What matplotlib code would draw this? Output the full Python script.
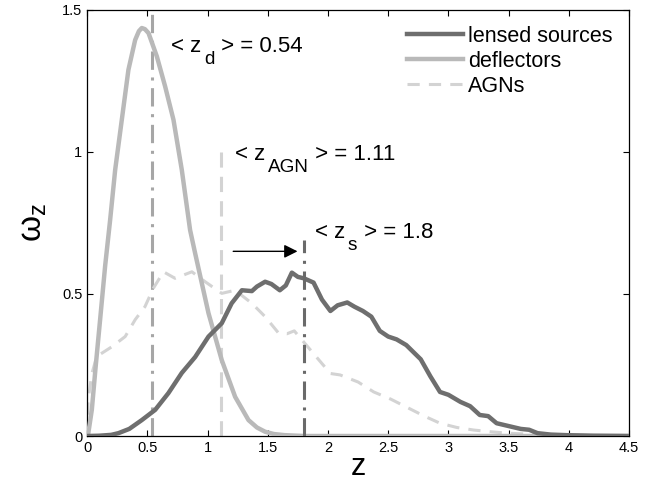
import matplotlib
matplotlib.use("Agg")
import matplotlib.pyplot as plt
import numpy as np

plt.rcParams['font.family'] = ['Liberation Sans', 'DejaVu Sans']
plt.rcParams['mathtext.fontset'] = 'custom'
plt.rcParams['mathtext.rm'] = 'Liberation Sans'
plt.rcParams['mathtext.it'] = 'Liberation Sans'

# lensed sources
z_src = [0.0, 0.1, 0.2, 0.26, 0.35, 0.454, 0.565, 0.675, 0.786, 0.897, 1.008, 1.118, 1.2, 1.285,
         1.368, 1.41, 1.478, 1.53, 1.6, 1.65, 1.70, 1.75, 1.80, 1.88, 1.95, 2.02, 2.08, 2.16, 2.22,
         2.29, 2.36, 2.43, 2.50, 2.57, 2.65, 2.77, 2.85, 2.93, 3.00, 3.10, 3.18, 3.26, 3.33, 3.40,
         3.50, 3.60, 3.67, 3.74, 3.85, 3.98, 4.2, 4.5]
w_src = [0.0, 0.001, 0.004, 0.01, 0.025, 0.056, 0.092, 0.151, 0.222, 0.278, 0.35, 0.397, 0.467, 0.513,
         0.51, 0.526, 0.543, 0.535, 0.513, 0.53, 0.575, 0.56, 0.555, 0.54, 0.48, 0.44, 0.46, 0.47, 0.455,
         0.44, 0.42, 0.37, 0.35, 0.34, 0.32, 0.27, 0.21, 0.155, 0.145, 0.12, 0.105, 0.074, 0.07, 0.045,
         0.035, 0.025, 0.022, 0.01, 0.005, 0.003, 0.001, 0.0]

# deflectors
z_def = [0.0, 0.01, 0.039, 0.07, 0.108, 0.15, 0.191, 0.233, 0.288, 0.343, 0.399, 0.43, 0.454, 0.48,
         0.51, 0.579, 0.648, 0.717, 0.786, 0.855, 0.897, 1.008, 1.118, 1.229, 1.34, 1.41, 1.478,
         1.55, 1.64, 1.8, 4.5]
w_def = [0.0, 0.01, 0.092, 0.24, 0.41, 0.6, 0.76, 0.937, 1.113, 1.289, 1.394, 1.425, 1.436, 1.432,
         1.418, 1.336, 1.23, 1.113, 0.937, 0.725, 0.643, 0.432, 0.267, 0.138, 0.056, 0.03, 0.015,
         0.007, 0.003, 0.0, 0.0]

# AGNs
z_agn = [0.0, 0.008, 0.04, 0.08, 0.205, 0.316, 0.40, 0.48, 0.55, 0.634, 0.73, 0.87, 0.98, 1.118,
         1.229, 1.368, 1.478, 1.59, 1.66, 1.72, 1.80, 1.90, 2.02, 2.10, 2.25, 2.38, 2.52, 2.66, 2.80,
         2.93, 3.07, 3.21, 3.35, 3.49, 3.75, 4.0, 4.5]
w_agn = [0.0, 0.125, 0.22, 0.28, 0.314, 0.35, 0.41, 0.455, 0.52, 0.578, 0.555, 0.578, 0.543, 0.502,
         0.513, 0.467, 0.42, 0.362, 0.36, 0.37, 0.33, 0.28, 0.22, 0.215, 0.19, 0.155, 0.13, 0.10, 0.07,
         0.045, 0.03, 0.021, 0.015, 0.01, 0.005, 0.003, 0.0]

means = [0.54, 1.11, 1.8]
mean_tops = [1.5, 1.0, 0.69]
mean_subs = ['d', 'AGN', 's']
mean_vals = ['0.54', '1.11', '1.8']

c_src = '#6e6e6e'
c_def = '#b9b9b9'
c_agn = '#d3d3d3'

fig = plt.figure(figsize=(6.65, 4.91), dpi=100)
ax = fig.add_axes([0.131, 0.112, 0.815, 0.868])

ax.plot(z_src, w_src, color=c_src, lw=3.2, label='lensed sources', zorder=4)
ax.plot(z_def, w_def, color=c_def, lw=3.2, label='deflectors', zorder=3)
ax.plot(z_agn, w_agn, color=c_agn, lw=2.2, ls=(0, (4, 3)), label='AGNs', zorder=2)

ax.plot([means[0], means[0]], [0, mean_tops[0]], color='#a6a6a6', lw=2.2, ls=(0, (6, 2.5, 1, 2.5)), zorder=1)
ax.plot([means[1], means[1]], [0, mean_tops[1]], color=c_agn, lw=2.2, ls=(0, (5, 3)), zorder=1)
ax.plot([means[2], means[2]], [0, mean_tops[2]], color='#6a6a6a', lw=2.2, ls=(0, (6, 2.5, 1, 2.5)), zorder=5)

ax.annotate('', xy=(1.77, 0.65), xytext=(1.19, 0.65),
            arrowprops=dict(arrowstyle='-|>', color='black', lw=1.0, mutation_scale=20))


def label_with_sub(x, y, sub, val, fs=16):
    t1 = ax.text(x, y, '< z', fontsize=fs, va='bottom', ha='left')
    t2 = ax.annotate(sub, xy=(1, 0), xycoords=t1, xytext=(1.5, -8), textcoords='offset points',
                     fontsize=fs * 0.85, va='bottom', ha='left')
    ax.annotate(' > = ' + val, xy=(1, 0), xycoords=(t2, t1), xytext=(0.5, 0),
                textcoords='offset points', fontsize=fs, va='bottom', ha='left')


label_with_sub(0.70, 1.335, mean_subs[0], mean_vals[0])
label_with_sub(1.23, 0.955, mean_subs[1], mean_vals[1])
label_with_sub(1.895, 0.68, mean_subs[2], mean_vals[2])

ax.set_xlim(0, 4.5)
ax.set_ylim(0, 1.5)
ax.set_xticks(np.arange(0, 4.51, 0.5))
ax.set_xticklabels(['0', '0.5', '1', '1.5', '2', '2.5', '3', '3.5', '4', '4.5'])
ax.set_yticks([0, 0.5, 1, 1.5])
ax.set_yticklabels(['0', '0.5', '1', '1.5'])
ax.tick_params(direction='in', top=True, right=True, labelsize=10.5, length=4, width=0.8)
for s in ax.spines.values():
    s.set_linewidth(0.9)

ax.set_xlabel('z', fontsize=22, labelpad=-2)
ax.set_ylabel(r'$\omega_{\rm z}$', fontsize=24, labelpad=9)

leg = ax.legend(loc='upper right', frameon=False, fontsize=15.5, handlelength=2.6,
                handletextpad=0.25, labelspacing=0.18, borderaxespad=0.35)

fig.savefig('out.png', dpi=100)
